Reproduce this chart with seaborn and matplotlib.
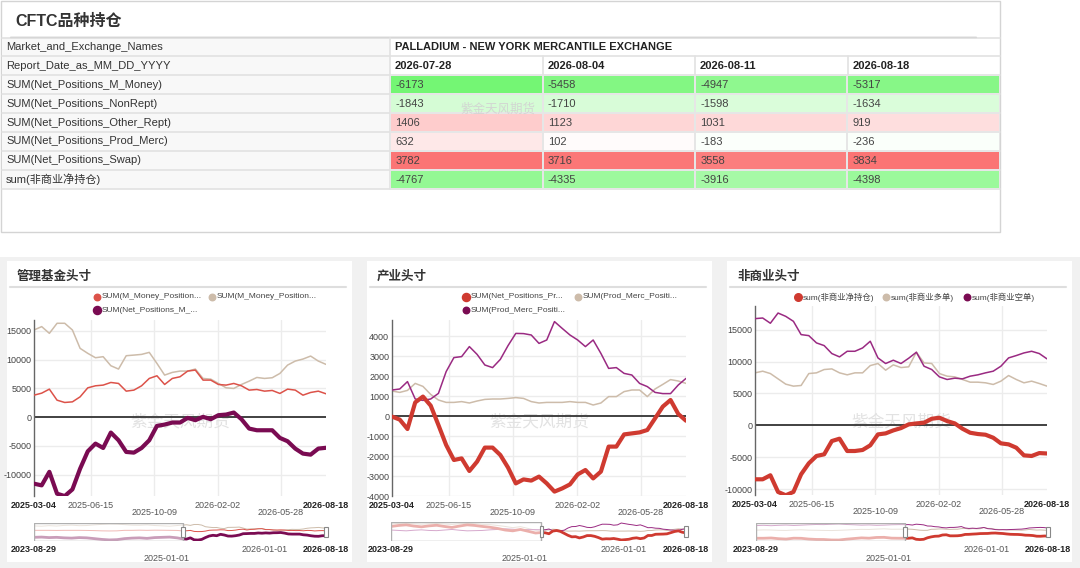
import numpy as np
import pandas as pd
import matplotlib
matplotlib.use('Agg')
import matplotlib.pyplot as plt
import matplotlib.dates as mdates
from matplotlib.colors import LinearSegmentedColormap, TwoSlopeNorm
from matplotlib.patches import Rectangle
import seaborn as sns

sns.set_style('white')
plt.rcParams['font.family'] = ['Liberation Sans', 'Noto Sans CJK SC', 'DejaVu Sans']

# ---------------- table data ----------------
market_name = 'PALLADIUM - NEW YORK MERCANTILE EXCHANGE'
report_dates = ['2026-07-28', '2026-08-04', '2026-08-11', '2026-08-18']
row_labels = ['SUM(Net_Positions_M_Money)', 'SUM(Net_Positions_NonRept)',
              'SUM(Net_Positions_Other_Rept)', 'SUM(Net_Positions_Prod_Merc)',
              'SUM(Net_Positions_Swap)', 'sum(非商业净持仓)']
m_money = [-6173, -5458, -4947, -5317]
non_rept = [-1843, -1710, -1598, -1634]
other_rept = [1406, 1123, 1031, 919]
prod_merc = [632, 102, -183, -236]
swap = [3782, 3716, 3558, 3834]
non_comm = [-4767, -4335, -3916, -4398]

# ---------------- chart data (bi-weekly, 2025-03-04 .. 2026-08-18) ----------------
main_dates = pd.date_range('2025-03-04', '2026-08-18', freq='14D')
hist_dates = pd.date_range('2023-08-29', periods=20, freq='28D')

mm_long = [3830, 4180, 4880, 2960, 2560, 2670, 3540, 5110, 5460, 5580, 6040, 5870, 4530, 4710, 5460,
           6740, 7200, 5690, 6740, 7030, 8020, 8190, 6450, 6450, 5690, 5580, 5870, 5460, 4710, 4820,
           4530, 4650, 4130, 4880, 4710, 3830, 4300, 4530, 4070]
mm_short = [15160, 15750, 14580, 16330, 16330, 15160, 11970, 11100, 10340, 10520, 8950, 8370, 10690,
            10800, 10920, 11270, 9350, 7320, 7790, 8020, 8020, 8370, 6740, 6620, 5870, 5110, 5000,
            5690, 6270, 6910, 6740, 6860, 7610, 9060, 9760, 10110, 10630, 9760, 9180]
mm_net = [-11560, -11850, -9500, -13300, -13710, -12550, -8950, -5930, -4590, -5350, -2670, -4010,
          -6040, -6160, -5350, -4010, -1510, -1280, -930, -930, -120, -520, 60, -350, 350, 460, 810,
          -350, -1980, -2270, -2270, -2270, -3600, -4180, -5460, -6330, -6510, -5458, -5317]

pm_net = [-30, -180, -650, 680, 970, 520, -450, -1450, -2200, -2120, -2750, -2280, -1580, -1580,
          -1950, -2580, -3370, -3170, -3230, -3030, -3370, -3780, -3620, -3420, -2920, -2700, -3120,
          -2780, -1530, -1530, -920, -870, -820, -700, -120, 470, 800, 102, -236]
pm_long = [1250, 1180, 1280, 1630, 1480, 1080, 800, 680, 680, 720, 650, 750, 830, 850, 850, 880, 920,
           880, 720, 650, 680, 680, 680, 720, 680, 680, 550, 650, 970, 970, 1220, 1300, 1300, 970,
           1350, 1580, 1820, 1750, 1630]
pm_short = [1300, 1350, 1720, 850, 780, 850, 1130, 2220, 2920, 2970, 3470, 3080, 2550, 2420, 2830,
            3520, 4130, 4120, 4050, 3630, 3800, 4720, 4380, 4050, 3800, 3470, 3800, 3130, 2380, 2420,
            2130, 2050, 1630, 1470, 1180, 1120, 1120, 1550, 1880]

nc_net = [-8440, -8440, -7810, -10420, -10940, -10420, -7660, -5940, -4790, -4530, -2450, -2080,
          -4010, -4010, -3850, -3120, -1410, -1250, -780, -420, 160, 310, 420, 1040, 1200, 680, 310,
          -520, -1150, -1350, -1460, -1930, -2810, -2970, -3490, -4690, -4790, -4335, -4398]
nc_long = [8230, 8490, 8120, 7290, 6460, 6150, 6250, 8120, 8230, 8750, 8850, 8230, 7920, 8230, 8230,
           9370, 9690, 8650, 9480, 9060, 9170, 11460, 9790, 9690, 8120, 7710, 7600, 7190, 6770, 6770,
           6670, 6410, 6930, 7810, 7190, 6670, 6930, 6560, 6150]
nc_short = [16720, 16820, 16000, 17600, 17080, 16300, 14220, 14060, 12920, 12500, 11250, 10730,
            11610, 11610, 12130, 13180, 10570, 9690, 10210, 9690, 10520, 11460, 9270, 8750, 7600,
            7190, 7400, 7290, 7710, 7920, 8230, 8490, 9270, 10570, 10940, 11350, 11610, 11250, 10420]

# older history, only visible in the zoom sliders (4-weekly)
mm_long_hist = [5000, 5000, 5000, 4800, 5000, 5000, 5000, 4800, 4500, 4000, 3800, 4000, 5000, 5000,
                5300, 5000, 5300, 5200, 5000, 4800]
mm_short_hist = [13500, 13000, 14000, 13300, 14500, 15000, 14000, 14300, 15500, 16500, 17300, 17000,
                 16000, 15000, 14800, 15500, 14300, 13700, 13000, 14300]
mm_net_hist = [-8500, -8000, -9000, -8500, -9500, -10000, -9000, -9500, -11000, -12500, -13500,
               -13000, -11000, -10000, -9500, -10500, -9000, -8500, -8000, -9500]
pm_net_hist = [3000, 3500, 3800, 3200, 2800, 3300, 3600, 3000, 2500, 3200, 3800, 3500, 3000, 2600,
               2000, 1200, 800, 1500, 600, -300]
pm_long_hist = [4200, 4500, 4600, 4300, 4100, 4300, 4500, 4200, 4000, 4300, 4600, 4400, 4000, 3900,
                3500, 3000, 2400, 2900, 2000, 1100]
pm_short_hist = [1200, 1000, 800, 1100, 1300, 1000, 900, 1200, 1500, 1100, 800, 900, 1000, 1300,
                 1500, 1800, 1600, 1400, 1400, 1400]
nc_net_hist = [-8500, -8500, -8000, -9300, -10000, -8400, -8600, -10000, -10700, -10800, -11700,
               -11800, -10200, -9000, -7800, -8400, -7000, -6800, -8300, -8500]
nc_long_hist = [6500, 7000, 6800, 6200, 6000, 6800, 7200, 6500, 6300, 6000, 5800, 6200, 6800, 7500,
                8000, 7800, 8500, 9000, 8200, 8300]
nc_short_hist = [15000, 15500, 14800, 15500, 16000, 15200, 15800, 16500, 17000, 16800, 17500, 18000,
                 17000, 16500, 15800, 16200, 15500, 15800, 16500, 16800]

axis_labels = ['2025-03-04', '2025-06-15', '2025-10-09', '2026-02-02', '2026-05-28', '2026-08-18']

RED = '#cf3a30'
RED_THIN = '#dc5249'
BEIGE = '#cdbcaa'
PURPLE = '#7a0b52'
PURPLE_THIN = '#9a2a82'
WM = '紫金天风期货'

W, H = 1080, 568
fig = plt.figure(figsize=(10.8, 5.68), dpi=100)


def px_axes(x, y, w, h):
    return fig.add_axes([x / W, 1 - (y + h) / H, w / W, h / H])


bg = px_axes(0, 0, W, H)
bg.set_xlim(0, W)
bg.set_ylim(H, 0)
bg.axis('off')

# page background
bg.add_patch(Rectangle((0, 257), W, H - 257, color='#f1f1f1', lw=0))

# ---------------- top table panel ----------------
bg.add_patch(Rectangle((0.5, 0.5), 999.5, 231.5, fc='white', ec='#d4d4d4', lw=1))
bg.text(15, 21, 'CFTC品种持仓', fontsize=11.5, fontweight='bold', color='#333', va='center')
bg.plot([10, 976], [37, 37], color='#a0a0a0', lw=1)

top, rh = 37.5, 18.9
bg.add_patch(Rectangle((2, top), 388, rh * 8, fc='#f8f8f8', lw=0))
for i in range(9):
    bg.plot([2, 1000], [top + i * rh] * 2, color='#e2e2e2', lw=1.2)
bg.plot([390, 390], [top, top + rh * 8], color='#e2e2e2', lw=1.2)
col_x = [390, 542.5, 695, 847.5]
for cx in col_x[1:]:
    bg.plot([cx, cx], [top + rh, top + 2 * rh], color='#e2e2e2', lw=1.2)

bg.text(6, top + rh * 0.5, 'Market_and_Exchange_Names', fontsize=8, color='#333', va='center')
bg.text(395, top + rh * 0.5, market_name, fontsize=8, color='#222', va='center', fontweight='bold')
bg.text(6, top + rh * 1.5, 'Report_Date_as_MM_DD_YYYY', fontsize=8, color='#333', va='center')
for cx, d in zip(col_x, report_dates):
    bg.text(cx + 5, top + rh * 1.5, d, fontsize=8, color='#222', va='center', fontweight='bold')
for i, lbl in enumerate(row_labels):
    bg.text(6, top + rh * (i + 2.5), lbl, fontsize=8, color='#333', va='center')

table = pd.DataFrame([m_money, non_rept, other_rept, prod_merc, swap, non_comm],
                     index=row_labels, columns=report_dates)
cmap = LinearSegmentedColormap.from_list('gr', ['#74f674', '#ffffff', '#fb7474'])
norm = TwoSlopeNorm(vmin=table.values.min(), vcenter=0, vmax=table.values.max())
tab = px_axes(390, top + 2 * rh, 610, 6 * rh)
sns.heatmap(table, ax=tab, cmap=cmap, norm=norm, cbar=False, linewidths=1.2,
            linecolor='#e6e6e6', xticklabels=False, yticklabels=False)
tab.set_xlabel('')
tab.set_ylabel('')
for i in range(table.shape[0]):
    for j in range(table.shape[1]):
        tab.text(j + 0.035, i + 0.52, str(table.iat[i, j]), fontsize=8, color='#444',
                 va='center', ha='left')
tab.text(0.46, 1.84, WM, fontsize=9, color='#d2d2d2', va='center', ha='left', alpha=0.9)


# ---------------- line charts ----------------
def draw_chart(x0, title, legend, series, ylim, yticks, box, sbox, wm_y=422):
    bg.add_patch(Rectangle((x0, 261), 345, 301, fc='white', lw=0))
    bg.text(x0 + 10, 277, title, fontsize=9, fontweight='bold', color='#333', va='center')
    bg.plot([x0 + 3, x0 + 339], [287, 287], color='#dedede', lw=1.5)
    for mx, my, c, s, t in legend:
        bg.scatter([mx], [my], s=s, color=c, zorder=3)
        bg.text(mx + 4.5, my, t, fontsize=6, color='#444', va='center')

    ax = px_axes(*box)
    ax.set_facecolor('none')
    for vals, hist, c, lw, mlw, z in series:
        sns.lineplot(x=main_dates, y=vals, ax=ax, color=c, linewidth=lw, legend=False, zorder=z)
    ax.set_xlim(main_dates[0], main_dates[-1])
    ax.set_ylim(*ylim)
    ax.set_yticks(yticks)
    ax.set_yticklabels([str(t) for t in yticks])
    ax.tick_params(axis='y', length=0, labelsize=6.5, labelcolor='#444', pad=2)
    ax.set_xticks([])
    ax.set_xlabel('')
    ax.set_ylabel('')
    for t in yticks:
        if t != 0:
            ax.axhline(t, color='#ececec', lw=1, zorder=0)
    ax.axhline(0, color='#333', lw=1.3, zorder=1)
    for k, lbl in enumerate(axis_labels):
        xd = mdates.date2num(pd.Timestamp(lbl))
        if 0 < k < len(axis_labels) - 1:
            ax.axvline(xd, color='#ececec', lw=1, zorder=0)
        edge = k in (0, len(axis_labels) - 1)
        off = -12 if k in (2, 4) else -6.5
        ax.annotate(lbl, xy=(xd, 0), xycoords=('data', 'axes fraction'), xytext=(0, off),
                    textcoords='offset points', ha='center', va='center', fontsize=6.5,
                    fontweight='bold' if edge else 'normal', color='#222' if edge else '#555',
                    annotation_clip=False)
    for s in ['top', 'right', 'bottom']:
        ax.spines[s].set_visible(False)
    ax.spines['left'].set_color('#666')
    ax.spines['left'].set_linewidth(1)
    ax.text(0.5, 1 - (wm_y - box[1]) / box[3], WM, transform=ax.transAxes, fontsize=12,
            color='#e2e2e2', ha='center', va='center', zorder=0)

    # zoom slider
    sl = px_axes(*sbox)
    sl.set_facecolor('none')
    full_dates = hist_dates.append(main_dates)
    allv = []
    for vals, hist, c, lw, mlw, z in series:
        yv = np.concatenate([hist, vals])
        allv.extend(yv)
        sns.lineplot(x=full_dates, y=yv, ax=sl, color=c, linewidth=mlw, legend=False, zorder=z)
    lo, hi = min(allv), max(allv)
    sl.set_ylim(lo - 0.06 * (hi - lo), hi + 0.06 * (hi - lo))
    sl.set_xlim(full_dates[0], full_dates[-1])
    sl.axis('off')
    x_a = mdates.date2num(full_dates[0])
    x_b = mdates.date2num(main_dates[0])
    x_c = mdates.date2num(main_dates[-1])
    tr = sl.get_xaxis_transform()
    sl.add_patch(Rectangle((x_a, 0), x_b - x_a, 1, transform=tr, fc='white', alpha=0.6,
                           ec='none', zorder=5))
    sl.add_patch(Rectangle((x_a, 0), x_b - x_a, 1, transform=tr, fc='none', ec='#b0b0b0',
                           lw=1, zorder=6))
    span = x_c - x_a
    for hx in (x_b, x_c):
        sl.add_patch(Rectangle((hx - span * 0.006, 0.22), span * 0.012, 0.56, transform=tr,
                               fc='white', ec='#888', lw=0.8, zorder=7, clip_on=False))
    for d, off, bold in [(full_dates[0], -6, True), (pd.Timestamp('2026-01-01'), -6, False),
                         (full_dates[-1], -6, True), (pd.Timestamp('2025-01-01'), -12.5, False)]:
        sl.annotate(d.strftime('%Y-%m-%d'), xy=(mdates.date2num(d), 0),
                    xycoords=('data', 'axes fraction'), xytext=(0, off),
                    textcoords='offset points', ha='center', va='center', fontsize=6.5,
                    fontweight='bold' if bold else 'normal', color='#222' if bold else '#555',
                    annotation_clip=False)


draw_chart(7, '管理基金头寸',
           [(97, 297, RED_THIN, 22, 'SUM(M_Money_Position...'),
            (212, 297, BEIGE, 22, 'SUM(M_Money_Position...'),
            (97, 310, PURPLE, 34, 'SUM(Net_Positions_M_...')],
           [(mm_short, mm_short_hist, BEIGE, 1.1, 0.7, 2),
            (mm_long, mm_long_hist, RED_THIN, 1.1, 0.7, 3),
            (mm_net, mm_net_hist, PURPLE, 3.0, 2.0, 4)],
           (-13700, 16900), [-10000, -5000, 0, 5000, 10000, 15000],
           (34, 320, 292, 176), (34, 523, 292, 18))

draw_chart(367, '产业头寸',
           [(466, 297, RED, 34, 'SUM(Net_Positions_Pr...'),
            (578, 297, BEIGE, 22, 'SUM(Prod_Merc_Positi...'),
            (466, 310, PURPLE, 22, 'SUM(Prod_Merc_Positi...')],
           [(pm_long, pm_long_hist, BEIGE, 1.1, 0.7, 2),
            (pm_short, pm_short_hist, PURPLE_THIN, 1.1, 0.7, 3),
            (pm_net, pm_net_hist, RED, 3.0, 2.0, 4)],
           (-4000, 4800), [-4000, -3000, -2000, -1000, 0, 1000, 2000, 3000, 4000],
           (392, 320, 294, 176), (391, 522, 295, 19))

draw_chart(727, '非商业头寸',
           [(798, 297, RED, 30, 'sum(非商业净持仓)'),
            (886, 297, BEIGE, 22, 'sum(非商业多单)'),
            (967, 297, PURPLE, 22, 'sum(非商业空单)')],
           [(nc_long, nc_long_hist, BEIGE, 1.1, 0.7, 2),
            (nc_short, nc_short_hist, PURPLE_THIN, 1.1, 0.7, 3),
            (nc_net, nc_net_hist, RED, 3.0, 2.0, 4)],
           (-10900, 18700), [-10000, -5000, 0, 5000, 10000, 15000],
           (755, 306, 292, 189), (756, 523, 292, 18))

fig.savefig('out.png', dpi=100)
